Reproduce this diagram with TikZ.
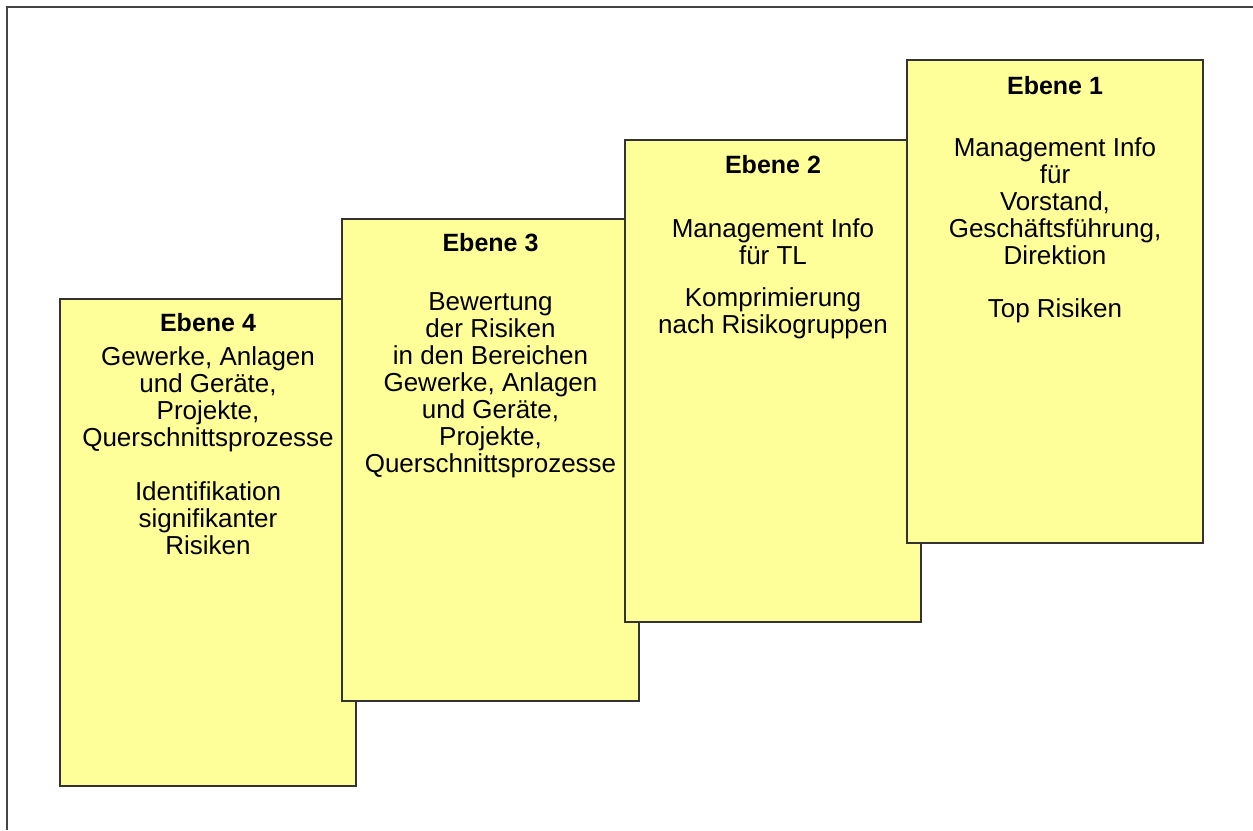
\documentclass[tikz,border=0pt]{standalone}
\usepackage{fontspec}
\setmainfont{Liberation Sans}
\definecolor{boxfill}{HTML}{FFFF99}
\definecolor{boxline}{HTML}{333333}
\definecolor{frameline}{HTML}{444444}
\begin{document}
\begin{tikzpicture}[x=1pt,y=-1pt,
  ebox/.style={draw=boxline, line width=1.5pt, fill=boxfill, rectangle, inner sep=0pt},
  etxt/.style={anchor=north, inner sep=0pt, align=center, font=\fontsize{26}{27}\selectfont},
  ettl/.style={anchor=north, inner sep=0pt, align=center, font=\fontsize{25}{27}\selectfont\bfseries}]
\useasboundingbox (0,0) rectangle (1253,830);
\draw[frameline, line width=2pt] (7,830) -- (7,7) -- (1253,7);
% boxes
\node[ebox, minimum width=296pt, minimum height=487pt] (e4) at (208,542.5) {};
\node[ebox, minimum width=297pt, minimum height=482pt] (e3) at (490.5,460) {};
\node[ebox, minimum width=296pt, minimum height=482pt] (e2) at (773,381) {};
\node[ebox, minimum width=296pt, minimum height=483pt] (e1) at (1055,301.5) {};
% Ebene 4
\node[ettl] (t4) at (208,313) {Ebene 4};
\node[etxt] (a4) at (208,346.5) {Gewerke, Anlagen\\und Geräte,\\Projekte,\\Querschnittsprozesse};
\node[etxt] (b4) at (208,481.5) {Identifikation\\signifikanter\\Risiken};
% Ebene 3
\node[ettl] (t3) at (490.5,233) {Ebene 3};
\node[etxt] (a3) at (490.5,292.5) {Bewertung\\der Risiken\\in den Bereichen\\Gewerke, Anlagen\\und Geräte,\\Projekte,\\Querschnittsprozesse};
% Ebene 2
\node[ettl] (t2) at (773,155) {Ebene 2};
\node[etxt] (a2) at (773,218.5) {Management Info\\für TL};
\node[etxt] (b2) at (773,287.5) {Komprimierung\\nach Risikogruppen};
% Ebene 1
\node[ettl] (t1) at (1055,76) {Ebene 1};
\node[etxt] (a1) at (1055,137.5) {Management Info\\für\\Vorstand,\\Geschäftsführung,\\Direktion};
\node[etxt] (b1) at (1055,298.5) {Top Risiken};
\end{tikzpicture}
\end{document}
